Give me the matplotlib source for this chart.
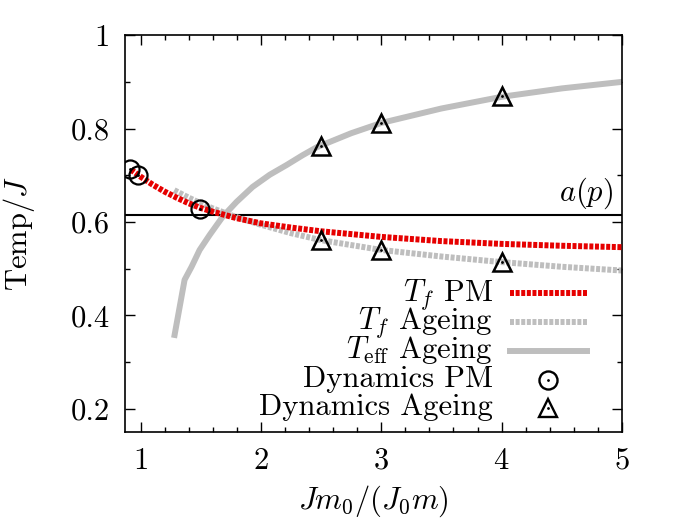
import matplotlib
matplotlib.use('Agg')
import matplotlib.pyplot as plt
from matplotlib.ticker import MultipleLocator

plt.rcParams['font.family'] = 'serif'
plt.rcParams['font.serif'] = ['cmr10', 'DejaVu Serif']
plt.rcParams['mathtext.fontset'] = 'cm'
plt.rcParams['axes.formatter.use_mathtext'] = True
plt.rcParams['font.size'] = 22

# T_f for the PM case
tf_pm_x = [0.92, 1.0, 1.1, 1.2, 1.3, 1.4, 1.5, 1.6, 1.8, 2.0, 2.25, 2.5, 3.0, 3.5, 4.0, 4.5, 5.0]
tf_pm_y = [0.712, 0.697, 0.680, 0.665, 0.652, 0.640, 0.630, 0.622, 0.608, 0.597, 0.588,
           0.580, 0.568, 0.559, 0.553, 0.549, 0.546]

# T_f for ageing
tf_age_x = [1.28, 1.4, 1.5, 1.6, 1.8, 2.0, 2.25, 2.5, 3.0, 3.5, 4.0, 4.5, 5.0]
tf_age_y = [0.668, 0.652, 0.640, 0.629, 0.610, 0.594, 0.576, 0.561, 0.540, 0.526,
            0.514, 0.504, 0.496]

# T_eff for ageing
teff_x = [1.283, 1.366, 1.424, 1.491, 1.574, 1.682, 1.798, 1.931, 2.073, 2.214, 2.347,
          2.464, 2.75, 3.0, 3.5, 4.0, 4.5, 5.0]
teff_y = [0.358, 0.476, 0.504, 0.540, 0.572, 0.611, 0.643, 0.675, 0.701, 0.722, 0.743,
          0.760, 0.790, 0.812, 0.843, 0.868, 0.886, 0.900]

# dynamics points
dyn_pm_x = [0.91, 0.975, 1.49]
dyn_pm_y = [0.713, 0.700, 0.628]
dyn_age_x = [2.5, 3.0, 4.0, 2.5, 3.0, 4.0]
dyn_age_y = [0.763, 0.812, 0.870, 0.561, 0.540, 0.514]

a_p = 0.615

labels = ['$T_f$ PM', '$T_f$ Ageing', '$T_{\\rm eff}$ Ageing', 'Dynamics PM', 'Dynamics Ageing']

grey = '#bebebe'
red = '#e60000'
dot = dict(lw=4.3, dashes=(0.67, 0.27), dash_capstyle='butt')

fig = plt.figure(figsize=(6.75, 5.25), dpi=100)
ax = fig.add_axes([0.185, 0.177, 0.7365, 0.756])

ax.axhline(a_p, color='black', lw=1.5, zorder=1)
ax.text(4.93, a_p + 0.008, '$a(p)$', ha='right', va='bottom')

ax.plot(tf_pm_x, tf_pm_y, color=red, zorder=3, **dot)
ax.plot(tf_age_x, tf_age_y, color=grey, zorder=2, **dot)
ax.plot(teff_x, teff_y, color=grey, lw=4.3, zorder=2)

ax.plot(dyn_pm_x, dyn_pm_y, 'o', ms=13, mfc='none', mec='black', mew=1.6, zorder=4)
ax.plot(dyn_pm_x, dyn_pm_y, '.', ms=2, color='black', zorder=4)
ax.plot(dyn_age_x, dyn_age_y, '^', ms=13.5, mfc='none', mec='black', mew=1.8, zorder=4)
ax.plot(dyn_age_x, dyn_age_y, '.', ms=2, color='black', zorder=4)

# key, gnuplot style: text right-aligned, sample on the right
rows = [0.350, 0.277, 0.204, 0.131, 0.060]
tr = ax.transAxes
for i, (lab, ry) in enumerate(zip(labels, rows)):
    ax.text(0.740, ry - 0.018, lab, transform=tr, ha='right', va='baseline')
    if i == 0:
        ax.plot([0.774, 0.930], [ry, ry], color=red, transform=tr, **dot)
    elif i == 1:
        ax.plot([0.774, 0.930], [ry, ry], color=grey, transform=tr, **dot)
    elif i == 2:
        ax.plot([0.774, 0.930], [ry, ry], color=grey, lw=4.3, transform=tr)
    else:
        mk = 'o' if i == 3 else '^'
        ax.plot([0.851], [ry], mk, ms=13, mfc='none', mec='black', mew=1.7, transform=tr)
        ax.plot([0.851], [ry], '.', ms=2, color='black', transform=tr)

ax.set_xlim(0.87, 5)
ax.set_ylim(0.15, 1.0)
ax.xaxis.set_major_locator(MultipleLocator(1))
ax.xaxis.set_minor_locator(MultipleLocator(0.2))
ax.yaxis.set_minor_locator(MultipleLocator(0.1))
ax.set_yticks([0.2, 0.4, 0.6, 0.8, 1.0])
ax.set_yticklabels(['0.2', '0.4', '0.6', '0.8', '1'])
ax.tick_params(which='both', direction='in', top=True, right=True, width=1)
ax.tick_params(which='major', length=7, pad=11)
ax.tick_params(which='minor', length=3.5)
for s in ax.spines.values():
    s.set_linewidth(1.2)

ax.set_xlabel('$Jm_0/(J_0m)$', labelpad=6)
ax.set_ylabel('Temp$/J$', labelpad=24)

fig.savefig('out.png', dpi=100)
